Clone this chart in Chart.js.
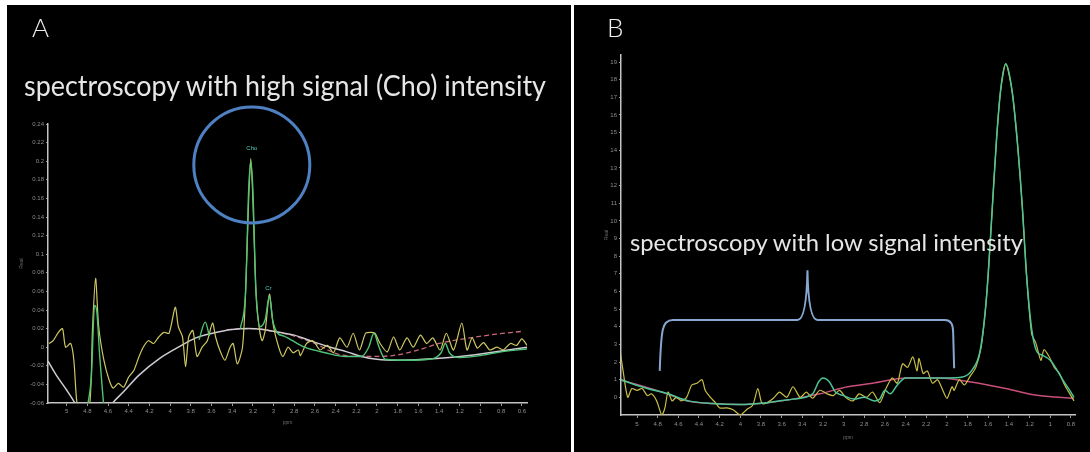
<!doctype html>
<html lang="en">
<head>
    <meta charset="utf-8">
    <title>MR spectroscopy</title>
    <script src="https://cdn.jsdelivr.net/npm/chart.js@4.4.1/dist/chart.umd.min.js"></script>
    <style>
        html, body {
            margin: 0;
            padding: 0;
            background: #fff;
        }

        body {
            width: 1090px;
            height: 452px;
            position: relative;
            overflow: hidden;
            font-family: Lato, "Open Sans", sans-serif;
        }

        .panel {
            position: absolute;
            top: 5px;
            height: 447px;
            background: #000;
        }

        #panelA {
            left: 7px;
            width: 564px;
        }

        #panelB {
            left: 574px;
            width: 516px;
        }

        .panel canvas {
            position: absolute;
            left: 0;
            top: 0;
        }

        .letter {
            position: absolute;
            top: 9px;
            color: #f0f0f0;
            font-size: 26px;
            line-height: 26px;
            font-weight: 300;
        }

        .caption {
            position: absolute;
            color: #e6e6e6;
            white-space: nowrap;
            transform-origin: 0 50%;
        }
    </style>
</head>
<body>

<div class="panel" id="panelA">
    <canvas id="chartA" width="564" height="447"></canvas>
    <div class="letter" style="left:25px">A</div>
    <div class="caption" id="capA" style="left:17px; top:66px; font-size:28px; line-height:28px">spectroscopy with high signal (Cho) intensity</div>
</div>

<div class="panel" id="panelB">
    <canvas id="chartB" width="516" height="447"></canvas>
    <div class="letter" style="left:33px">B</div>
    <div class="caption" id="capB" style="left:56px; top:225px; font-size:24px; line-height:24px">spectroscopy with low signal intensity</div>
</div>

<script>
    // tick labels
    const aTicksX = [5, 4.8, 4.6, 4.4, 4.2, 4, 3.8, 3.6, 3.4, 3.2, 3, 2.8, 2.6, 2.4, 2.2, 2, 1.8, 1.6, 1.4, 1.2, 1, 0.8, 0.6];
    const aTicksY = [-0.06, -0.04, -0.02, 0, 0.02, 0.04, 0.06, 0.08, 0.1, 0.12, 0.14, 0.16, 0.18, 0.2, 0.22, 0.24];
    const bTicksX = [5, 4.8, 4.6, 4.4, 4.2, 4, 3.8, 3.6, 3.4, 3.2, 3, 2.8, 2.6, 2.4, 2.2, 2, 1.8, 1.6, 1.4, 1.2, 1, 0.8];
    const bTicksY = [0, 1, 2, 3, 4, 5, 6, 7, 8, 9, 10, 11, 12, 13, 14, 15, 16, 17, 18, 19];

    // panel A: measured spectrum
    const aRawPpm = [5.17, 5.13, 5.08, 5.04, 5.01, 4.96, 4.93, 4.90, 4.86, 4.78, 4.75, 4.72, 4.69, 4.64, 4.59, 4.55, 4.50, 4.45, 4.40, 4.35,
        4.30, 4.26, 4.21, 4.16, 4.11, 4.06, 4.01, 3.95, 3.92, 3.88, 3.85, 3.82, 3.78, 3.74, 3.69, 3.64, 3.59, 3.56, 3.52, 3.47,
        3.42, 3.39, 3.35, 3.30, 3.27, 3.24, 3.22, 3.20, 3.17, 3.14, 3.11, 3.08, 3.04, 3.00, 2.95, 2.91, 2.86, 2.81, 2.76, 2.74,
        2.68, 2.62, 2.55, 2.48, 2.42, 2.36, 2.29, 2.23, 2.17, 2.11, 2.06, 2.02, 1.97, 1.90, 1.84, 1.78, 1.71, 1.65, 1.58, 1.52,
        1.46, 1.39, 1.33, 1.26, 1.18, 1.13, 1.08, 1.03, 0.97, 0.91, 0.84, 0.78, 0.71, 0.65, 0.60, 0.55];
    const aRawVal = [0.004, 0.007, 0.016, 0.02, 0.0, 0.004, -0.014, -0.06, -0.07, -0.065, 0.02, 0.074, 0.022, -0.014, -0.035, -0.044, -0.039, -0.043, -0.032, -0.025,
        -0.01, 0.0, 0.007, 0.004, 0.011, 0.016, 0.015, 0.043, 0.022, 0.011, -0.021, 0.011, 0.018, -0.01, 0.0, 0.007, 0.026, 0.011, -0.003, -0.014,
        0.0, 0.004, -0.018, 0.0, 0.06, 0.16, 0.203, 0.16, 0.06, 0.022, 0.007, 0.018, 0.057, 0.022, 0.0, -0.01, 0.0, -0.006, -0.003, -0.009,
        0.004, 0.007, -0.003, 0.002, -0.006, 0.01, 0.0, 0.015, -0.003, 0.015, 0.016, 0.015, 0.004, -0.005, 0.011, -0.003, 0.01, 0.0, 0.013, 0.004,
        0.01, -0.003, 0.015, -0.003, 0.026, -0.003, 0.01, -0.001, 0.005, -0.003, 0.0, -0.003, 0.004, 0.002, 0.009, 0.002];

    // panel A: fitted peaks (null = gap)
    const aFitPpm = [4.80, 4.76, 4.73, 4.71, 4.68, 4.64, 4.6, 3.72, 3.66, 3.62, 3.5,
        3.32, 3.27, 3.24, 3.22, 3.20, 3.17, 3.13, 3.08, 3.04, 3.01, 2.96, 2.9, 2.7, 2.5, 2.3, 2.15, 2.08, 2.03, 1.98, 1.92,
        1.7, 1.5, 1.38, 1.34, 1.3, 1.2, 1.0, 0.8, 0.55];
    const aFitVal = [-0.065, -0.03, 0.045, 0.04, -0.01, -0.065, null, 0.008, 0.027, 0.012, null,
        0.02, 0.06, 0.17, 0.2, 0.17, 0.06, 0.022, 0.03, 0.055, 0.03, 0.015, 0.012, 0.0, -0.006, -0.01, -0.01, 0.0, 0.015, 0.0, -0.013,
        -0.014, -0.013, -0.006, 0.004, -0.006, -0.011, -0.009, -0.005, -0.002];

    // panel A: baseline
    const aBasePpm = [5.18, 5.1, 5.0, 4.92, 4.85, 4.7, 4.57, 4.45, 4.3, 4.1, 3.92, 3.75, 3.59, 3.4, 3.25, 3.1, 2.95, 2.8, 2.62, 2.45,
        2.29, 2.15, 2.0, 1.8, 1.55, 1.3, 1.05, 0.8, 0.55];
    const aBaseVal = [-0.015, -0.03, -0.046, -0.06, -0.075, -0.085, -0.062, -0.048, -0.03, -0.012, 0.0, 0.01, 0.015, 0.019, 0.02, 0.019, 0.016, 0.013, 0.006, 0.0,
        -0.005, -0.01, -0.013, -0.014, -0.013, -0.011, -0.008, -0.004, 0.0];

    // panel A: second baseline (dashed)
    const aBase2Ppm = [3.45, 3.2, 3.0, 2.8, 2.6, 2.36, 2.1, 1.85, 1.6, 1.4, 1.1, 0.85, 0.6];
    const aBase2Val = [0.019, 0.02, 0.017, 0.012, 0.004, -0.008, -0.01, -0.009, -0.003, 0.004, 0.01, 0.014, 0.017];

    // panel B: measured spectrum
    const bRawPpm = [5.16, 5.14, 5.09, 5.05, 5.00, 4.95, 4.90, 4.86, 4.81, 4.76, 4.73, 4.70, 4.66, 4.62, 4.57, 4.52, 4.47, 4.42, 4.37, 4.34,
        4.29, 4.24, 4.20, 4.13, 4.07, 4.00, 3.94, 3.88, 3.83, 3.79, 3.74, 3.68, 3.62, 3.55, 3.49, 3.42, 3.36, 3.30, 3.23, 3.16,
        3.10, 3.04, 2.98, 2.91, 2.85, 2.78, 2.72, 2.65, 2.59, 2.53, 2.48, 2.43, 2.38, 2.33, 2.29, 2.27, 2.23, 2.19, 2.14, 2.09,
        2.04, 2.00, 1.95, 1.93, 1.88, 1.83, 1.78, 1.72, 1.67, 1.63, 1.60, 1.56, 1.52, 1.48, 1.43, 1.37, 1.32, 1.27, 1.23, 1.18,
        1.14, 1.09, 1.06, 1.01, 0.96, 0.91, 0.86, 0.81, 0.77];
    const bRawVal = [2.5, 1.7, 0.0, 0.5, 0.4, 0.5, 0.1, 0.2, -0.2, -1.0, -0.6, 0.3, -0.2, 0.0, -0.2, 0.0, 0.7, 0.8, 1.0, 0.4,
        0.0, -0.3, -0.6, -0.6, -0.7, -1.0, -0.7, -0.45, 0.5, -0.35, -0.3, -0.05, 0.3, 0.0, 0.6, 0.0, 0.3, -0.05, 0.4, 0.2,
        0.1, 0.4, 0.0, -0.2, 0.2, 0.0, 0.3, -0.3, 0.5, 1.1, 0.8, 1.9, 1.7, 2.3, 1.5, 2.2, 1.35, 1.5, 0.8, 1.0,
        0.4, -0.05, 0.6, 0.4, 1.0, 0.7, 1.15, 1.7, 2.8, 4.8, 7.0, 10.8, 14.6, 17.4, 18.9, 17.4, 14.6, 10.8, 7.0, 3.6,
        3.1, 2.1, 2.7, 2.3, 1.7, 1.35, 0.7, 0.2, -0.2];

    // panel B: fit
    const bFitPpm = [5.16, 4.9, 4.7, 4.5, 4.27, 4.0, 3.74, 3.49, 3.3, 3.24, 3.2, 3.14, 3.08, 3.0, 2.9, 2.8, 2.7, 2.65, 2.6, 2.55,
        2.48, 2.4, 2.2, 2.0, 1.85, 1.75, 1.68, 1.63, 1.6, 1.56, 1.52, 1.48, 1.43, 1.37, 1.32, 1.27, 1.23, 1.18, 1.13, 1.08,
        1.0, 0.95, 0.88, 0.8, 0.77];
    const bFitVal = [1.0, 0.5, 0.2, -0.2, -0.35, -0.4, -0.3, -0.1, 0.2, 0.9, 1.1, 0.9, 0.3, 0.1, -0.1, 0.0, -0.2, -0.1, 0.4, 0.2,
        0.7, 1.1, 1.1, 1.1, 1.15, 1.6, 2.6, 4.8, 7.0, 10.8, 14.6, 17.4, 18.9, 17.4, 14.6, 10.8, 7.0, 3.9, 2.6, 2.4,
        2.1, 1.7, 1.0, 0.3, 0.0];

    // panel B: baseline
    const bBasePpm = [5.16, 4.71, 4.52, 4.27, 4.0, 3.74, 3.49, 3.23, 2.96, 2.72, 2.39, 2.07, 1.75, 1.43, 1.11, 0.77];
    const bBaseVal = [1.0, 0.2, -0.2, -0.35, -0.4, -0.3, -0.1, 0.2, 0.6, 0.8, 1.1, 1.1, 0.85, 0.5, 0.1, -0.05];

    // annotations in data units
    const aCircle = {ppm: 3.21, val: 0.196};
    const aPeakNames = ['Cho', 'Cr'];
    const aPeakPpm = [3.21, 3.05];
    const aPeakVal = [0.212, 0.062];
    const bBracePpm = [4.78, 4.71, 3.35, 2.0, 1.93];
    const bBraceVal = [1.5, 4.38, 7.2, 4.38, 1.65];

    const pts = (xs, ys) => xs.map((x, i) => ({x: x, y: ys[i]}));
    const fmt = v => String(Math.round(v * 100) / 100);

    Chart.defaults.font.family = "'Liberation Sans', Arial, sans-serif";
    Chart.defaults.animation = false;

    function makeScales(o) {
        return {
            x: {
                type: 'linear', reverse: true, min: o.xMin, max: o.xMax,
                afterBuildTicks: s => { s.ticks = o.xTicks.map(v => ({value: v})); },
                afterFit: s => { s.height = o.xHeight; },
                grid: {display: true, drawOnChartArea: false, drawTicks: true, tickLength: 3, color: '#9a9a9a'},
                border: {color: '#c4c4c4', width: 1.5},
                ticks: {color: '#8e8e8e', font: {size: 6}, padding: o.xPad, maxRotation: 0, autoSkip: false, callback: v => fmt(v)},
                title: {display: true, text: 'ppm', color: '#6e6e6e', font: {size: 5}, padding: {top: 0, bottom: o.titlePad}}
            },
            y: {
                type: 'linear', min: o.yMin, max: o.yMax,
                afterBuildTicks: s => { s.ticks = o.yTicks.map(v => ({value: v})); },
                afterFit: s => { s.width = o.yWidth; },
                grid: {display: true, drawOnChartArea: false, drawTicks: true, tickLength: 2, color: '#9a9a9a'},
                border: {color: '#c4c4c4', width: 1.5},
                ticks: {color: '#8e8e8e', font: {size: 6}, padding: 2, autoSkip: false, callback: v => fmt(v)},
                title: {display: true, text: 'Real', color: '#6e6e6e', font: {size: 5}, padding: {top: o.yTitlePad, bottom: 0}}
            }
        };
    }

    function line(data, color, width, extra) {
        return Object.assign({data: data, borderColor: color, borderWidth: width, pointRadius: 0, fill: false}, extra);
    }

    const circlePlugin = {
        id: 'circleA',
        afterDatasetsDraw(chart) {
            const ctx = chart.ctx, x = chart.scales.x, y = chart.scales.y;
            ctx.save();
            ctx.strokeStyle = '#4e80c2';
            ctx.lineWidth = 3;
            ctx.beginPath();
            ctx.arc(x.getPixelForValue(aCircle.ppm), y.getPixelForValue(aCircle.val), 58, 0, Math.PI * 2);
            ctx.stroke();
            ctx.fillStyle = '#4fcfc0';
            ctx.font = "6px 'Liberation Sans'";
            ctx.textAlign = 'center';
            aPeakNames.forEach((n, i) => ctx.fillText(n, x.getPixelForValue(aPeakPpm[i]), y.getPixelForValue(aPeakVal[i])));
            ctx.restore();
        }
    };

    const bracePlugin = {
        id: 'braceB',
        afterDatasetsDraw(chart) {
            const ctx = chart.ctx, x = chart.scales.x, y = chart.scales.y;
            const px = i => x.getPixelForValue(bBracePpm[i]);
            const py = i => y.getPixelForValue(bBraceVal[i]);
            const x0 = px(0), y0 = py(0), x1 = px(1), yh = py(1), xm = px(2), ym = py(2), x3 = px(4), y3 = py(4), x2 = px(3);
            ctx.save();
            ctx.strokeStyle = '#86a7cf';
            ctx.lineWidth = 2;
            ctx.beginPath();
            ctx.moveTo(x0, y0);
            ctx.quadraticCurveTo(x0 + 1, yh + 20, x0 + 3, yh + 10);
            ctx.quadraticCurveTo(x0 + 5, yh, x1 + 6, yh);
            ctx.lineTo(xm - 10, yh);
            ctx.quadraticCurveTo(xm - 1, yh, xm, ym);
            ctx.quadraticCurveTo(xm + 1, yh, xm + 10, yh);
            ctx.lineTo(x2 - 2, yh);
            ctx.quadraticCurveTo(x3 - 1, yh, x3 - 1, yh + 12);
            ctx.lineTo(x3, y3);
            ctx.stroke();
            ctx.restore();
        }
    };

    new Chart(document.getElementById('chartA'), {
        type: 'line',
        data: {
            datasets: [
                line(pts(aFitPpm, aFitVal), 'rgb(78,196,118)', 1.4, {order: 0, cubicInterpolationMode: 'monotone', spanGaps: false}),
                line(pts(aRawPpm, aRawVal), 'rgb(206,200,98)', 1.2, {order: 1, tension: 0.25}),
                line(pts(aBasePpm, aBaseVal), 'rgb(206,204,212)', 1.5, {order: 2, cubicInterpolationMode: 'monotone'}),
                line(pts(aBase2Ppm, aBase2Val), 'rgb(198,104,122)', 1.3, {order: 3, borderDash: [5, 3], cubicInterpolationMode: 'monotone'})
            ]
        },
        options: {
            responsive: false,
            layout: {padding: {left: 0, right: 44, top: 119, bottom: 19}},
            plugins: {legend: {display: false}, tooltip: {enabled: false}},
            scales: makeScales({
                xMin: 0.55, xMax: 5.18, xTicks: aTicksX, xHeight: 30, xPad: 2, titlePad: 7,
                yMin: -0.06, yMax: 0.24, yTicks: aTicksY, yWidth: 41, yTitlePad: 12
            })
        },
        plugins: [circlePlugin]
    });

    new Chart(document.getElementById('chartB'), {
        type: 'line',
        data: {
            datasets: [
                line(pts(bFitPpm, bFitVal), 'rgb(76,196,150)', 1.5, {order: 0, cubicInterpolationMode: 'monotone'}),
                line(pts(bRawPpm, bRawVal), 'rgb(200,190,70)', 1.2, {order: 1, tension: 0.25}),
                line(pts(bBasePpm, bBaseVal), 'rgb(200,78,124)', 1.5, {order: 2, cubicInterpolationMode: 'monotone'})
            ]
        },
        options: {
            responsive: false,
            layout: {padding: {left: 0, right: 15, top: 50, bottom: 3}},
            plugins: {legend: {display: false}, tooltip: {enabled: false}},
            scales: makeScales({
                xMin: 0.76, xMax: 5.155, xTicks: bTicksX, xHeight: 34, xPad: 3, titlePad: 8,
                yMin: -1, yMax: 19.4, yTicks: bTicksY, yWidth: 47, yTitlePad: 30
            })
        },
        plugins: [bracePlugin]
    });

    // squeeze captions to the width they have in the figure
    function fitText(id, w) {
        const el = document.getElementById(id);
        el.style.transform = 'scaleX(' + (w / el.offsetWidth) + ')';
    }
    fitText('capA', 522);
    fitText('capB', 393);
</script>
</body>
</html>
